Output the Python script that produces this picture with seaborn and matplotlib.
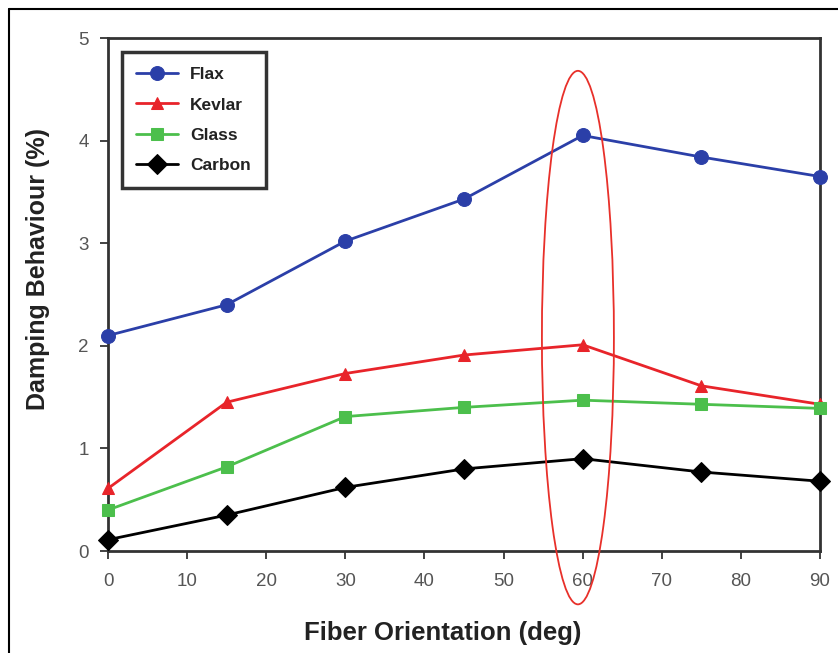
import matplotlib
matplotlib.use("Agg")
import matplotlib.pyplot as plt
import seaborn as sns
import pandas as pd
from matplotlib.patches import Ellipse
from matplotlib.lines import Line2D

orientation = [0, 15, 30, 45, 60, 75, 90]
flax = [2.10, 2.40, 3.02, 3.43, 4.05, 3.84, 3.65]
kevlar = [0.61, 1.45, 1.73, 1.91, 2.01, 1.61, 1.43]
glass = [0.40, 0.82, 1.31, 1.40, 1.47, 1.43, 1.39]
carbon = [0.11, 0.35, 0.62, 0.80, 0.90, 0.77, 0.68]
series_names = ["Flax", "Kevlar", "Glass", "Carbon"]
x_ticks = [0, 10, 20, 30, 40, 50, 60, 70, 80, 90]
y_ticks = [0, 1, 2, 3, 4, 5]

df = pd.DataFrame({
    "Fiber Orientation (deg)": orientation * 4,
    "Damping": flax + kevlar + glass + carbon,
    "Material": sum([[n] * len(orientation) for n in series_names], []),
})

sns.set_style("white")
plt.rcParams['font.family'] = ['Liberation Sans', 'DejaVu Sans']

fig = plt.figure(figsize=(8.38, 6.53), dpi=100)
ax = fig.add_axes([0.1289, 0.1562, 0.8496, 0.7856])

palette = {"Flax": "#2b3fa8", "Kevlar": "#e8242a", "Glass": "#4cbf4c", "Carbon": "#000000"}
markers = {"Flax": "o", "Kevlar": "^", "Glass": "s", "Carbon": "D"}
sizes = {"Flax": 10, "Kevlar": 9, "Glass": 9, "Carbon": 10}
for name in series_names:
    sub = df[df["Material"] == name]
    sns.lineplot(data=sub, x="Fiber Orientation (deg)", y="Damping", ax=ax,
                 color=palette[name], marker=markers[name], markersize=sizes[name],
                 markeredgecolor=palette[name], linewidth=2, label=name, clip_on=False,
                 zorder=3)

ax.set_xlim(0, 90)
ax.set_ylim(0, 5)
ax.set_xticks(x_ticks)
ax.set_yticks(y_ticks)
ax.tick_params(axis='both', which='both', direction='out', length=6, width=1.2,
               colors='#222222', labelcolor='#555555', labelsize=13.5,
               bottom=True, left=True)
ax.tick_params(axis='x', pad=10)
ax.tick_params(axis='y', pad=8)
for s in ax.spines.values():
    s.set_color('#333333')
    s.set_linewidth(2.0)

ax.set_xlabel("Fiber Orientation (deg)", fontsize=18.5, fontweight='bold', color='#222222')
ax.set_ylabel("Damping Behaviour (%)", fontsize=18, fontweight='bold', color='#222222')
ax.xaxis.set_label_coords(0.47, -0.136)
ax.yaxis.set_label_coords(-0.082, 0.55)

leg = ax.legend(loc='upper left', bbox_to_anchor=(0.019, 0.972),
                prop={'weight': 'bold', 'size': 12.5}, frameon=True, fancybox=False,
                handlelength=2.4, handletextpad=0.7, borderpad=0.85, labelspacing=0.87,
                borderaxespad=0)
leg.get_frame().set_edgecolor('black')
leg.get_frame().set_linewidth(2.5)
for t in leg.get_texts():
    t.set_color('#222222')

ell = Ellipse((59.4, 2.08), width=9.1, height=5.2, fill=False, edgecolor='#e8302a',
              linewidth=1.3, clip_on=False, zorder=5)
ax.add_patch(ell)

fig.add_artist(Line2D([9/838, 9/838], [0, 1 - 9/653], transform=fig.transFigure, color='black', linewidth=1.5))
fig.add_artist(Line2D([9/838, 1], [1 - 9/653, 1 - 9/653], transform=fig.transFigure, color='black', linewidth=1.5))

fig.savefig("out.png", dpi=100)
